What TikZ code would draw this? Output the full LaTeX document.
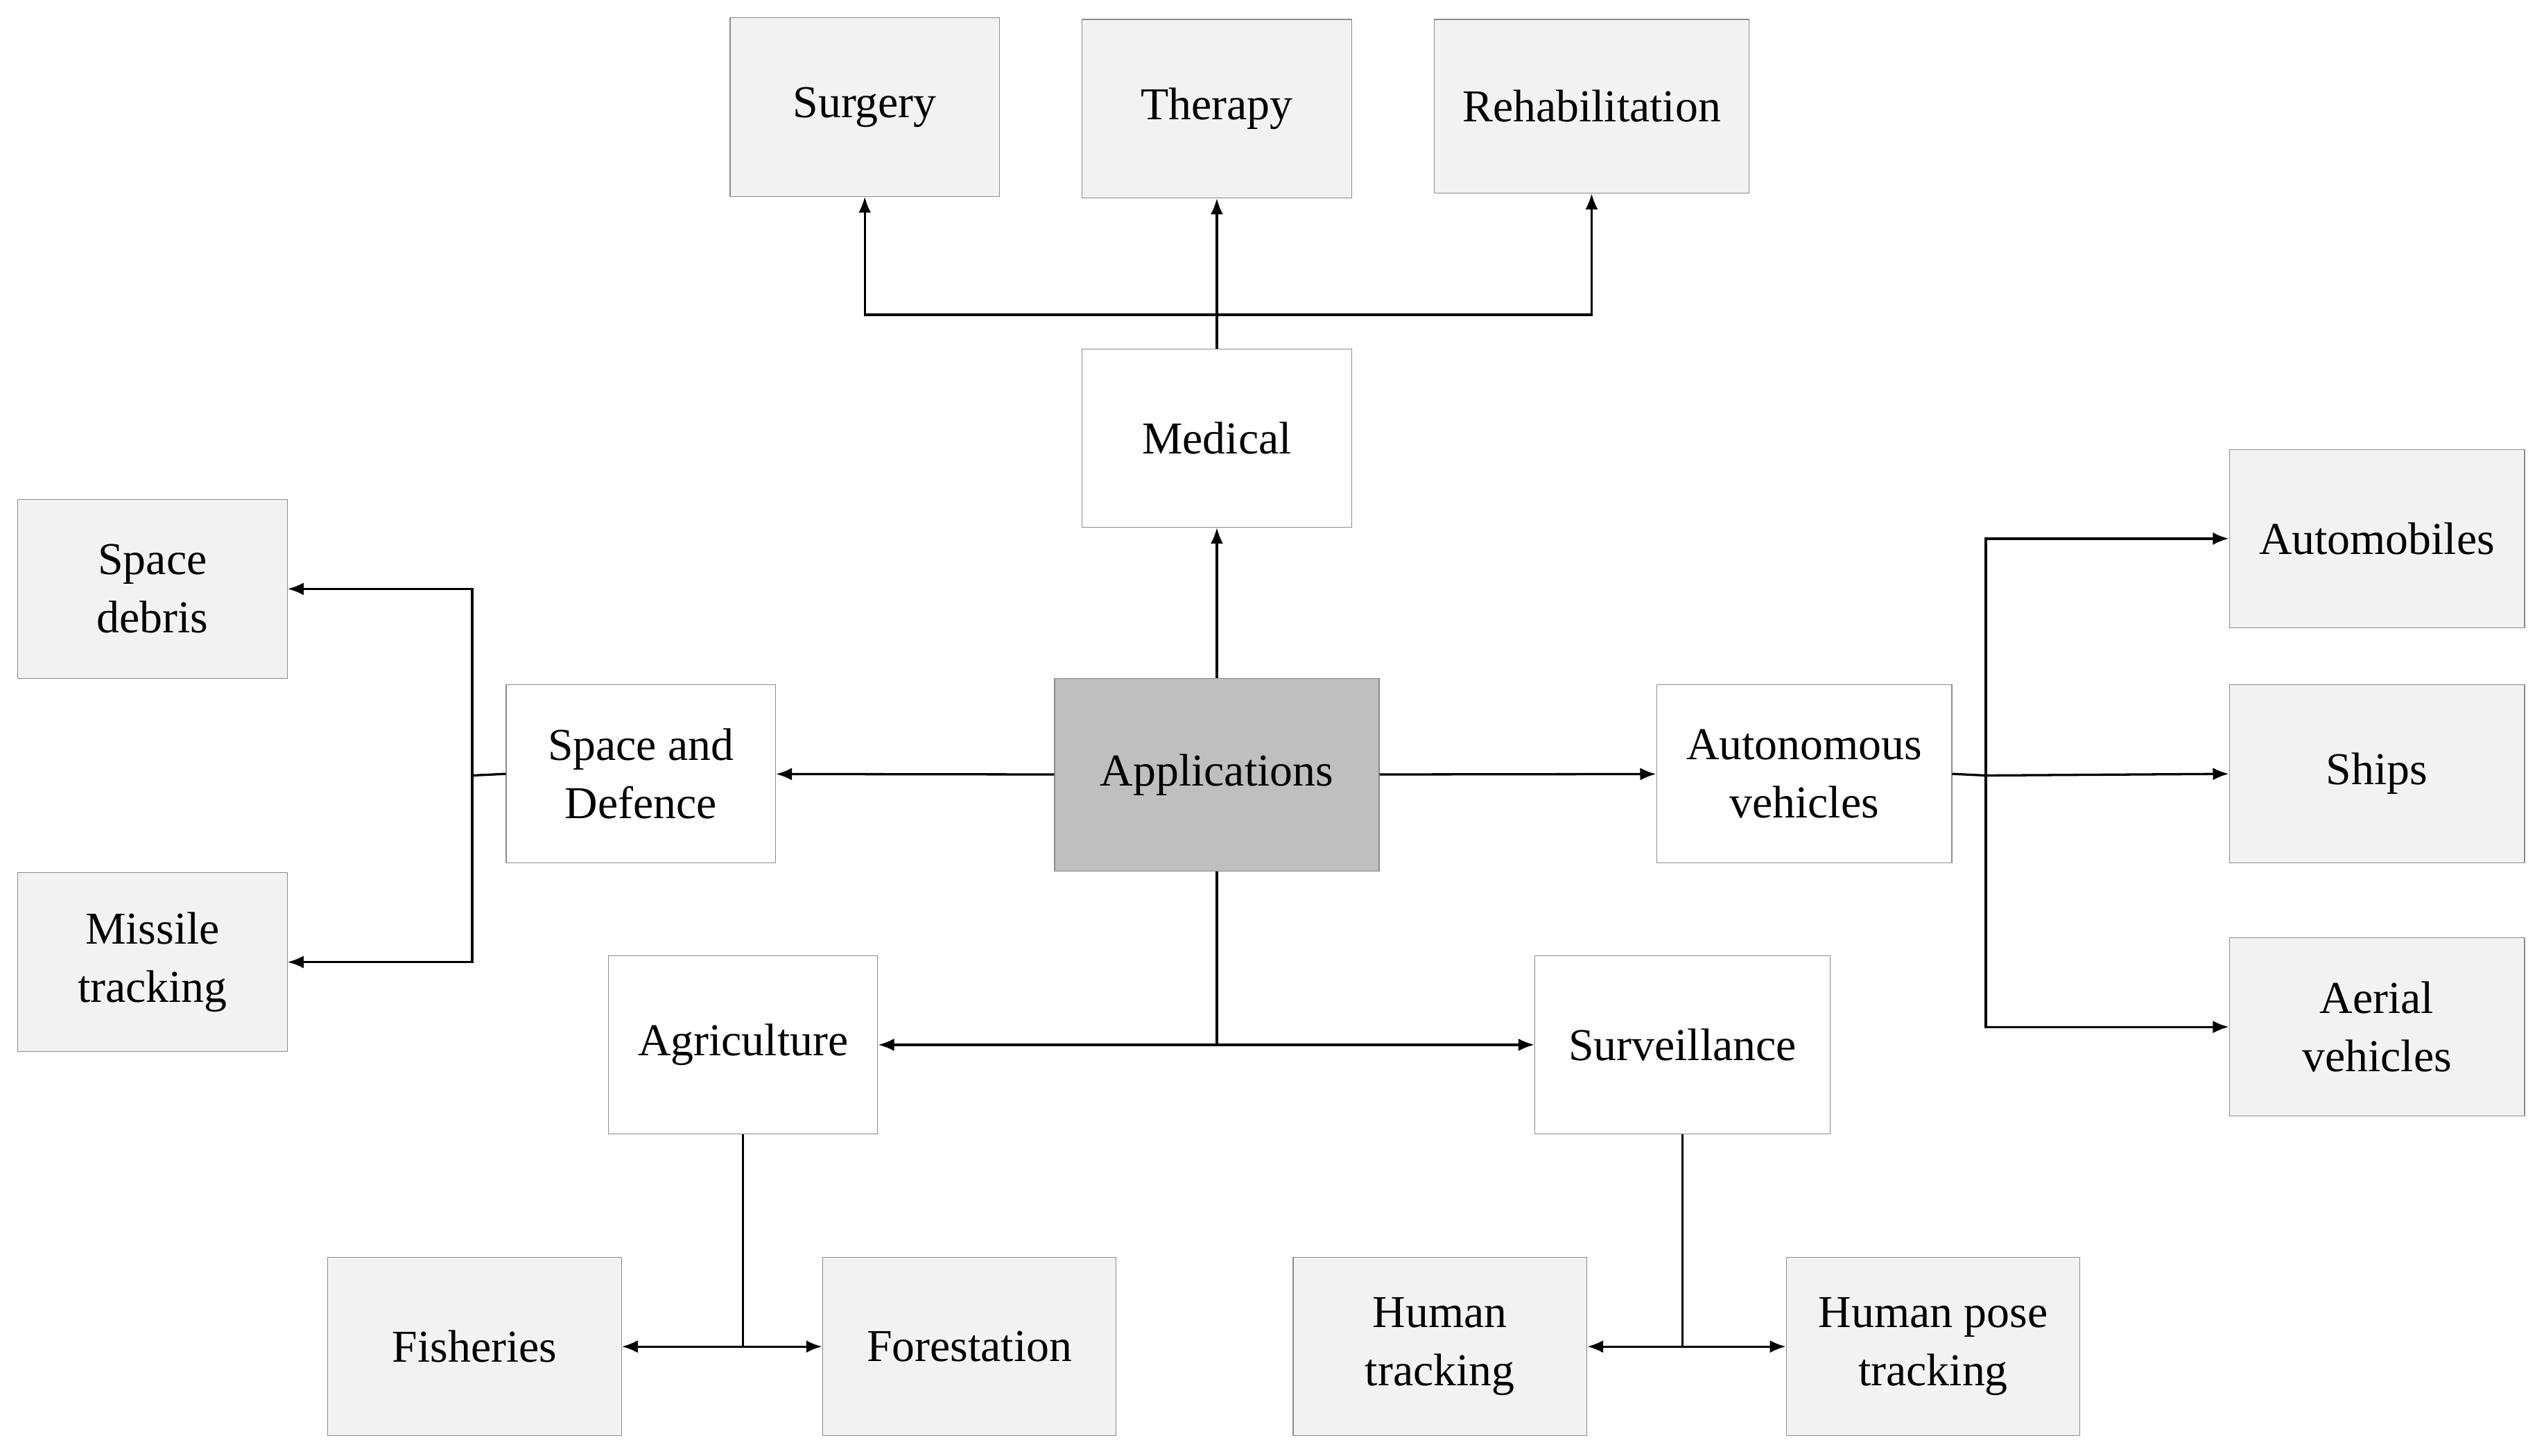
\documentclass[tikz,border=0pt]{standalone}
\usepackage{fontspec}
\setmainfont{Liberation Serif}
\usetikzlibrary{arrows.meta}
\newcommand\bx[6]{\node[#1,minimum width={(#5-#3)*0.05cm},minimum height={(#6-#4)*0.05cm}] (#2) at ({(#3+#5)/2},{(#4+#6)/2}) {#1text};}
\tikzset{
 base/.style={draw=black!45,line width=0.7pt,inner sep=0pt,align=center,font=\fontsize{40}{51}\selectfont},
 leaf/.style={base,fill=black!5},
 mid/.style={base,fill=white},
 root/.style={base,fill=black!25},
 conn/.style={line width=2pt},
 arr/.style={conn,-{Latex[length=14pt,width=11pt]}},
}
\newcommand\B[7]{\node[#1,minimum width={(#5-#3)*0.05cm},minimum height={(#6-#4)*0.05cm}] (#2) at ({(#3+#5)/2},{(#4+#6)/2}) {#7};}
\begin{document}
\begin{tikzpicture}[x=0.05cm,y=-0.05cm]
\useasboundingbox (0,0) rectangle (1568,897.4);
\B{leaf}{surg}{450}{11}{616}{121}{Surgery}
\B{leaf}{ther}{667}{12}{833}{122}{Therapy}
\B{leaf}{reha}{884}{12}{1078}{119}{Rehabilitation}
\B{mid}{med}{667}{215}{833}{325}{Medical}
\B{root}{app}{650}{418}{850}{537}{Applications}
\B{mid}{spd}{312}{422}{478}{532}{Space and\\Defence}
\B{leaf}{deb}{11}{308}{177}{418}{Space\\debris}
\B{leaf}{mis}{11}{538}{177}{648}{Missile\\tracking}
\B{mid}{aut}{1021}{422}{1203}{532}{Autonomous\\vehicles}
\B{leaf}{auto}{1374}{277}{1556}{387}{Automobiles}
\B{leaf}{ship}{1374}{422}{1556}{532}{Ships}
\B{leaf}{aer}{1374}{578}{1556}{688}{Aerial\\vehicles}
\B{mid}{agr}{375}{589}{541}{699}{Agriculture}
\B{mid}{sur}{946}{589}{1128}{699}{Surveillance}
\B{leaf}{fish}{202}{775}{383}{885}{Fisheries}
\B{leaf}{fore}{507}{775}{688}{885}{Forestation}
\B{leaf}{ht}{797}{775}{978}{885}{Human\\tracking}
\B{leaf}{hpt}{1101}{775}{1282}{885}{Human pose\\tracking}
\coordinate (jm) at (750,194);
\coordinate (js) at (291,478);
\coordinate (ja) at (1224,478);
\coordinate (jb) at (750,644);
\coordinate (jg) at (458,830);
\coordinate (jv) at (1037,830);
\draw[arr] (app) -- (med);
\draw[conn] (med.north) -- (jm);
\draw[arr] (jm) -| (surg.south);
\draw[arr] (jm) -- (ther.south);
\draw[arr] (jm) -| (reha.south);
\draw[arr] (app) -- (spd);
\draw[conn] (spd.west) -- (js);
\draw[arr] (js) |- (deb.east);
\draw[arr] (js) |- (mis.east);
\draw[arr] (app) -- (aut);
\draw[conn] (aut.east) -- (ja);
\draw[arr] (ja) |- (auto.west);
\draw[arr] (ja) -- (ship.west);
\draw[arr] (ja) |- (aer.west);
\draw[conn] (app.south) -- (jb);
\draw[arr] (jb) -- (agr.east);
\draw[arr] (jb) -- (sur.west);
\draw[conn] (agr.south) -- (jg);
\draw[arr] (jg) -- (fish.east);
\draw[arr] (jg) -- (fore.west);
\draw[conn] (sur.south) -- (jv);
\draw[arr] (jv) -- (ht.east);
\draw[arr] (jv) -- (hpt.west);
\end{tikzpicture}
\end{document}
